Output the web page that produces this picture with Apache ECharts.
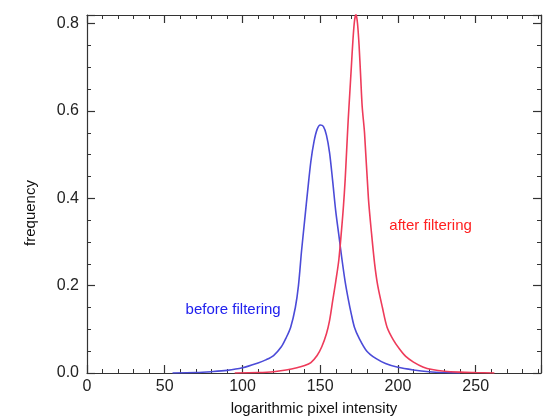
<!DOCTYPE html>
<html>
<head>
<meta charset="utf-8">
<script src="https://cdn.jsdelivr.net/npm/echarts@6/dist/echarts.min.js"></script>
<style>
  html, body { margin: 0; padding: 0; background: #fff; }
  #main { width: 546px; height: 416px; }
</style>
</head>
<body>
<div id="main"></div>
<script>
// ---------------------------------
// Data
// ---------------------------------
const beforeX = [55, 70, 80, 90, 100, 110, 115, 120, 125, 128, 131, 134, 136, 138, 140, 142, 144, 146, 148, 150,
  152, 154, 156, 158, 160, 162, 164, 166, 168, 170, 172, 175, 180, 186, 192, 200, 210, 220, 230, 240];
const beforeY = [0, 0.001, 0.003, 0.006, 0.012, 0.023, 0.03, 0.04, 0.06, 0.08, 0.105, 0.15, 0.2, 0.28, 0.35, 0.42, 0.485, 0.53, 0.558, 0.568,
  0.565, 0.545, 0.505, 0.44, 0.37, 0.315, 0.26, 0.21, 0.17, 0.135, 0.105, 0.08, 0.05, 0.033, 0.022, 0.013, 0.007, 0.003, 0.001, 0];

const afterX = [95, 110, 120, 128, 135, 140, 144, 148, 151, 154, 156, 158, 160, 162, 164, 165, 166, 167, 168, 169, 170, 171, 172, 173,
  174, 175, 176, 177, 178.5, 181, 183, 185, 187, 190, 193, 197, 201, 205, 210, 216, 222, 230, 240, 250, 262];
const afterY = [0, 0.001, 0.003, 0.007, 0.012, 0.017, 0.024, 0.04, 0.06, 0.09, 0.12, 0.165, 0.21, 0.26, 0.34, 0.385, 0.44, 0.51, 0.58, 0.64, 0.7, 0.76, 0.805, 0.822,
  0.8, 0.75, 0.68, 0.61, 0.55, 0.4, 0.32, 0.25, 0.2, 0.15, 0.105, 0.076, 0.055, 0.038, 0.025, 0.014, 0.008, 0.004, 0.002, 0.001, 0];

const LABELS = ['before filtering', 'after filtering'];
const LABEL_AT = [[94, 0.145], [221, 0.336]];

// Constants
const XMAX = 292;
const YMAX = 0.82;
const AXIS = '#333';
const FONT = 'Liberation Sans, Arial, sans-serif';

function pairs(xs, ys) {
  return xs.map((x, i) => [x, ys[i]]);
}

function frameAxis(extra) {
  /* shared look of the boxed, inward-ticked axes */
  return Object.assign({
    type: 'value',
    axisLine: { show: true, onZero: false, lineStyle: { color: AXIS, width: 1.2 } },
    axisTick: { show: true, inside: true, length: 8, lineStyle: { color: AXIS, width: 1.2 } },
    minorTick: { show: true, length: 4, lineStyle: { color: AXIS, width: 1 } },
    splitLine: { show: false }
  }, extra);
}

var chartDom = document.getElementById('main');
var myChart = echarts.init(chartDom, null, { renderer: 'canvas' });

var option = {
  animation: false,
  backgroundColor: '#fff',
  grid: { left: 87, right: 5, top: 15, bottom: 43, containLabel: false, outerBoundsMode: 'none' },
  xAxis: [
    frameAxis({
      min: 0, max: XMAX, interval: 50,
      minorTick: { show: true, splitNumber: 5, length: 4, lineStyle: { color: AXIS, width: 1 } },
      position: 'bottom',
      name: 'logarithmic pixel intensity',
      nameLocation: 'middle',
      nameGap: 28,
      nameTextStyle: { fontFamily: FONT, fontSize: 15, color: '#111' },
      axisLabel: { fontFamily: FONT, fontSize: 16, color: '#222', margin: 6, showMaxLabel: false }
    }),
    frameAxis({
      min: 0, max: XMAX, interval: 50,
      minorTick: { show: true, splitNumber: 5, length: 4, lineStyle: { color: AXIS, width: 1 } },
      position: 'top',
      axisLabel: { show: false }
    })
  ],
  yAxis: [
    frameAxis({
      min: 0, max: YMAX, interval: 0.2,
      minorTick: { show: true, splitNumber: 4, length: 4, lineStyle: { color: AXIS, width: 1 } },
      position: 'left',
      name: 'frequency',
      nameLocation: 'middle',
      nameGap: 49,
      nameTextStyle: { fontFamily: FONT, fontSize: 15, color: '#111', padding: [0, 38, 0, 0] },
      axisLabel: { fontFamily: FONT, fontSize: 16, color: '#222', margin: 8, showMaxLabel: false,
        formatter: v => v.toFixed(1) }
    }),
    frameAxis({
      min: 0, max: YMAX, interval: 0.2,
      minorTick: { show: true, splitNumber: 4, length: 4, lineStyle: { color: AXIS, width: 1 } },
      position: 'right',
      axisLabel: { show: false }
    })
  ],
  series: [
    {
      name: LABELS[0],
      type: 'line',
      data: pairs(beforeX, beforeY),
      showSymbol: false,
      smooth: 0.3,
      lineStyle: { color: '#4b4bd8', width: 1.6 },
      markPoint: {
        symbol: 'rect', symbolSize: 0, silent: true,
        label: { show: true, position: 'inside', formatter: LABELS[0],
          fontFamily: FONT, fontSize: 15, color: '#2020ee' },
        data: [{ coord: LABEL_AT[0] }]
      }
    },
    {
      name: LABELS[1],
      type: 'line',
      data: pairs(afterX, afterY),
      showSymbol: false,
      smooth: 0.3,
      lineStyle: { color: '#ee3b5a', width: 1.6 },
      markPoint: {
        symbol: 'rect', symbolSize: 0, silent: true,
        label: { show: true, position: 'inside', formatter: LABELS[1],
          fontFamily: FONT, fontSize: 15, color: '#ff2020' },
        data: [{ coord: LABEL_AT[1] }]
      }
    }
  ]
};

option && myChart.setOption(option);
</script>
</body>
</html>
